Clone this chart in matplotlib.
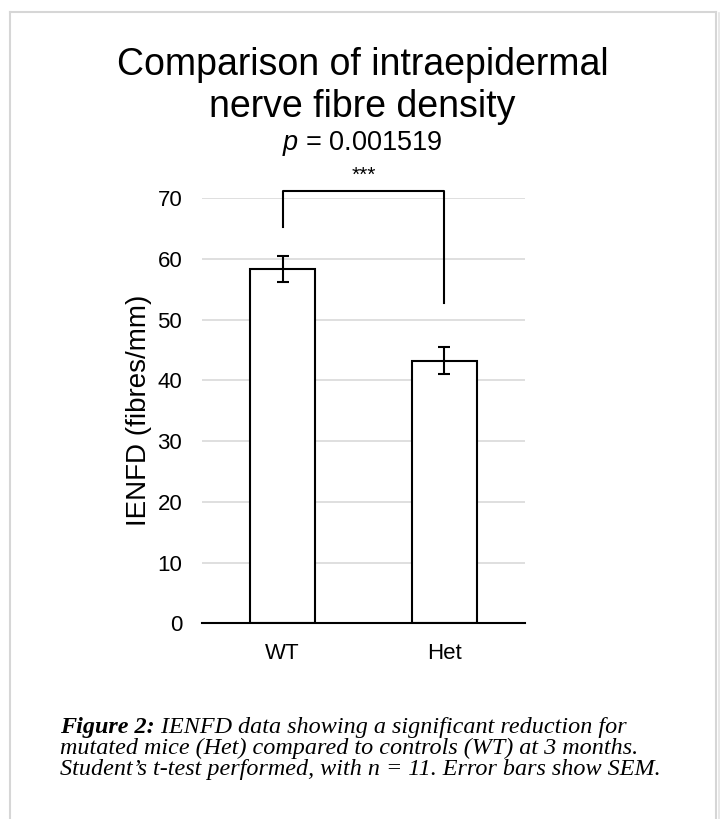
import matplotlib
matplotlib.use('Agg')
import matplotlib.pyplot as plt
from matplotlib.lines import Line2D

# --- dados ------------------------------------------------------------------
groups = ['WT', 'Het']
means = [58.3, 43.2]
sem = [2.1, 2.2]
yticks = [0, 10, 20, 30, 40, 50, 60, 70]
p_text = '0.001519'
stars = '***'
# braco de significancia: topo, perna WT, perna Het
br_top = 71.2
br_legs = [65.3, 52.8]

title_lines = ['Comparison of intraepidermal', 'nerve fibre density']
caption_bold = 'Figure 2:'
caption_lines = [
    ' IENFD data showing a significant reduction for',
    'mutated mice (Het) compared to controls (WT) at 3 months.',
    'Student\u2019s t-test performed, with n = 11. Error bars show SEM.',
]

plt.rcParams['font.family'] = ['Liberation Sans', 'DejaVu Sans']
plt.rcParams['mathtext.fontset'] = 'custom'
plt.rcParams['mathtext.it'] = 'Liberation Sans:italic'
plt.rcParams['mathtext.rm'] = 'Liberation Sans'

W, H = 723, 819
fig = plt.figure(figsize=(W / 100, H / 100), dpi=100)
fig.patch.set_facecolor('white')


def fy(py):
    # pixel (de cima) -> coordenada da figura
    return 1 - py / H


# moldura cinza da figura (sem linha inferior, sombra leve a direita)
border = dict(color='#d6d6d6', lw=1.5, transform=fig.transFigure)
fig.add_artist(Line2D([10 / W, 10 / W], [0, fy(12)], **border))
fig.add_artist(Line2D([10 / W, 716 / W], [fy(12), fy(12)], **border))
fig.add_artist(Line2D([716 / W, 716 / W], [0, fy(12)], **border))
fig.add_artist(Line2D([718.5 / W, 718.5 / W], [0, fy(13)], color='#e4e4e4',
                      lw=1.2, transform=fig.transFigure))

ax = fig.add_axes([201.7 / W, fy(623.3), 323.3 / W, 425.3 / H])
x = range(len(groups))
ax.bar(x, means, width=0.4, color='white', edgecolor='black', lw=1.5, zorder=3)
ax.errorbar(x, means, yerr=sem, fmt='none', ecolor='black', elinewidth=1.5,
            capsize=4, capthick=1.5, zorder=4)

ax.set_xlim(-0.5, 1.5)
ax.set_ylim(0, 70)
ax.set_yticks(yticks)
ax.set_xticks(list(x))
ax.set_xticklabels(groups)
ax.tick_params(axis='both', length=0, labelsize=16)
ax.tick_params(axis='x', pad=14)
ax.tick_params(axis='y', pad=14)
ax.grid(axis='y', color='#d9d9d9', lw=1.2, zorder=0)
ax.set_axisbelow(True)
for s in ['top', 'right', 'left']:
    ax.spines[s].set_visible(False)
ax.spines['bottom'].set_color('black')
ax.spines['bottom'].set_linewidth(1.5)
ax.spines['bottom'].set_zorder(5)

ax.set_ylabel('IENFD (fibres/mm)', fontsize=20)
ax.yaxis.set_label_coords(-0.155, 0.5)

# braco de significancia
ax.plot([0, 0, 1, 1], [br_legs[0], br_top, br_top, br_legs[1]],
        color='black', lw=1.5, clip_on=False, zorder=5)
ax.text(0.5, br_top + 0.9, stars, ha='center', va='bottom', fontsize=15)

# titulo
cx = 362.5 / W
fig.text(cx, fy(75), title_lines[0], ha='center', va='baseline', fontsize=27)
fig.text(cx, fy(117), title_lines[1], ha='center', va='baseline', fontsize=27)
fig.text(cx, fy(150), '$p$ = ' + p_text, ha='center', va='baseline',
         fontsize=19.5)

# legenda da figura (serifada, italico)
cap = dict(family='Liberation Serif', style='italic', fontsize=17.4,
           va='baseline')
fig.canvas.draw()
r = fig.canvas.get_renderer()
x0 = 60 / W
tb = fig.text(x0, fy(733), caption_bold, weight='bold', **cap)
bb = tb.get_window_extent(r)
fig.text(bb.x1 / W, fy(733), caption_lines[0], **cap)
for i, line in enumerate(caption_lines[1:], start=1):
    fig.text(x0, fy(733 + 21 * i), line, **cap)

fig.savefig('out.png', dpi=100)
